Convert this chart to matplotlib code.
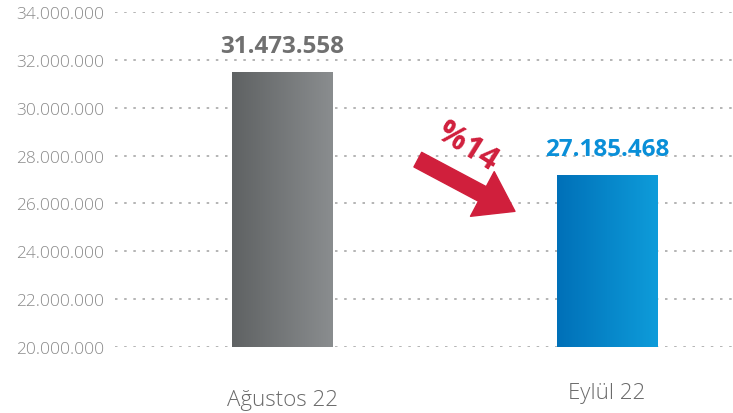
import numpy as np
import matplotlib
matplotlib.use("Agg")
import matplotlib.pyplot as plt
import matplotlib.transforms as mtransforms
from matplotlib.colors import LinearSegmentedColormap

categories = ["Ağustos 22", "Eylül 22"]
values = [31473558, 27185468]
value_labels = ["31.473.558", "27.185.468"]
yticks = [20000000, 22000000, 24000000, 26000000, 28000000, 30000000, 32000000, 34000000]
ytick_labels = ["20.000.000", "22.000.000", "24.000.000", "26.000.000",
                "28.000.000", "30.000.000", "32.000.000", "34.000.000"]
change_label = "%14"

W, H = 733, 414
fig = plt.figure(figsize=(W / 100, H / 100), dpi=100)
ax = fig.add_axes([115 / W, 1 - 348 / H, (W - 115) / W, (348 - 13) / H])

ax.set_xlim(-0.514, 1.388)
ax.set_ylim(20000000, 34000000)

grad_colors = [("#5f6263", "#8a8d8f"), ("#0070b8", "#0e9cda")]
label_colors = ["#707070", "#0a8fd8"]
bw = 0.31
for i, (v, (c0, c1)) in enumerate(zip(values, grad_colors)):
    bars = ax.bar(i, v - 20000000, bottom=20000000, width=bw, color="none", zorder=3)
    patch = bars[0]
    cmap = LinearSegmentedColormap.from_list("g%d" % i, [c0, c1])
    grad = np.linspace(0, 1, 256).reshape(1, -1)
    im = ax.imshow(grad, cmap=cmap, aspect="auto",
                   extent=[i - bw / 2, i + bw / 2, 20000000, v], zorder=3)
    im.set_clip_path(patch)
    ax.text(i, v + 600000, value_labels[i], ha="center", va="bottom",
            fontsize=17.5, fontweight="bold", color=label_colors[i],
            family="Open Sans", zorder=5)

ax.set_xlim(-0.514, 1.388)
ax.set_ylim(20000000, 34000000)

for y in yticks:
    ax.axhline(y, color="#a8a8a8", lw=1.2, ls=(0, (1.5, 4)), zorder=1)

ax.set_yticks(yticks)
ax.set_yticklabels(ytick_labels, family="Open Sans", fontweight="light",
                   fontsize=12.5, color="#8a8a8a")
ax.set_xticks([0, 1])
ax.set_xticklabels(categories, family="Open Sans", fontweight="light",
                   fontsize=16, color="#6a6a6a")
ax.tick_params(axis="both", length=0)
ax.tick_params(axis="x", pad=30)
ax.tick_params(axis="y", pad=8)
for s in ax.spines.values():
    s.set_visible(False)
lbl = ax.get_xticklabels()[1]
lbl.set_transform(lbl.get_transform() + mtransforms.ScaledTranslation(0, 7 / 100, fig.dpi_scale_trans))

# arrow
x0, y0 = 0.418, 27830000
x1, y1 = 0.717, 25670000
ax.annotate("", xy=(x1, y1), xytext=(x0, y0),
            arrowprops=dict(arrowstyle="simple,head_length=1.9,head_width=2.6,tail_width=0.85",
                            color="#d01f3c", mutation_scale=14, shrinkA=0, shrinkB=0,
                            capstyle="round", joinstyle="round"),
            zorder=6)
ax.text(0.57, 28400000, change_label, ha="center", va="center", rotation=-32,
        fontsize=23, fontweight="bold", color="#d01f3c", family="Open Sans", zorder=6)

fig.savefig("out.png", dpi=100)
